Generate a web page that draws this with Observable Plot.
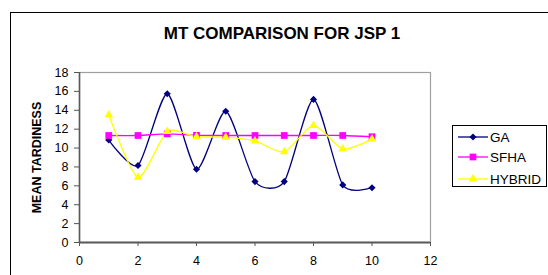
<!DOCTYPE html>
<html>
<head>
<meta charset="utf-8">
<script src="https://cdn.jsdelivr.net/npm/d3@7"></script>
<script src="https://cdn.jsdelivr.net/npm/@observablehq/plot@0.6"></script>
<style>
  html, body { margin: 0; padding: 0; background: #fff; }
  body { width: 548px; height: 275px; position: relative; overflow: hidden; font-family: "Liberation Sans", Arial, sans-serif; }
  #border { position: absolute; left: 10px; top: 12px; width: 620px; height: 320px; border: 1px solid #000; box-sizing: border-box; }
  #title { position: absolute; left: 0; width: 564px; top: 24px; text-align: center; font-weight: bold; font-size: 17px; color: #000; }
  #chart { position: absolute; left: 0; top: 0; }
  #legend { position: absolute; left: 452px; top: 125px; }
</style>
</head>
<body>
<div id="border"></div>
<div id="chart"></div>
<div id="title">MT COMPARISON FOR JSP 1</div>
<div id="legend"></div>
<script>
// ---- data ----
const jobs = [1, 2, 3, 4, 5, 6, 7, 8, 9, 10];
const gaValues = [10.85, 8.15, 15.75, 7.75, 13.9, 6.45, 6.45, 15.15, 6.1, 5.8];
const sfhaValues = [11.33, 11.33, 11.5, 11.35, 11.33, 11.33, 11.33, 11.33, 11.33, 11.2];
const hybridValues = [13.5, 6.9, 11.75, 11.2, 11.15, 10.75, 9.6, 12.4, 9.9, 10.95];
const seriesNames = ["GA", "SFHA", "HYBRID"];
const seriesColors = ["#000080", "#FF00FF", "#FFFF00"];
const seriesSymbols = ["diamond2", "square", "triangle"];
const seriesR = [3.2, 3.8, 3.2];
const xTicks = [0, 2, 4, 6, 8, 10, 12];
const yTicks = [0, 2, 4, 6, 8, 10, 12, 14, 16, 18];

const allValues = [gaValues, sfhaValues, hybridValues];
const rows = [];
seriesNames.forEach((s, i) => jobs.forEach((j, k) => rows.push({series: s, x: j, y: allValues[i][k]})));

const marks = [
  Plot.frame({stroke: "#a0a0a0", strokeWidth: 1.2}),
  Plot.axisY(yTicks, {tickSize: 5, tickPadding: 6, stroke: "#555", fontSize: 12.5, label: null, fill: "#000"}),
  Plot.axisX(xTicks, {tickSize: 4, tickPadding: 10, stroke: "#555", fontSize: 12.5, label: null, fill: "#000"}),
  Plot.ruleX([0], {stroke: "#5a5a5a", strokeWidth: 1.6}),
  Plot.ruleY([0], {stroke: "#5a5a5a", strokeWidth: 1.8}),
  Plot.text(["MEAN TARDINESS"], {frameAnchor: "left", dx: -43, rotate: -90, textAnchor: "middle", fontWeight: "bold", fontSize: 12.5, fill: "#000"})
];
seriesNames.forEach((s, i) => {
  const d = rows.filter(r => r.series === s);
  marks.push(Plot.line(d, {x: "x", y: "y", stroke: seriesColors[i], strokeWidth: 1.3, curve: "cardinal", tension: 0.3}));
});
seriesNames.forEach((s, i) => {
  const d = rows.filter(r => r.series === s);
  marks.push(Plot.dot(d, {x: "x", y: "y", symbol: () => seriesSymbols[i], r: seriesR[i], fill: seriesColors[i], stroke: "none"}));
});

const chart = Plot.plot({
  width: 548,
  height: 275,
  marginLeft: 79,
  marginRight: 118,
  marginTop: 72,
  marginBottom: 33,
  style: {fontFamily: "'Liberation Sans', Arial, sans-serif", background: "transparent", overflow: "visible"},
  x: {domain: [0, 12]},
  y: {domain: [0, 18]},
  symbol: {domain: seriesSymbols, range: seriesSymbols},
  marks
});
document.getElementById("chart").appendChild(chart);

// ---- legend ----
const lw = 94, lh = 61;
const svg = d3.create("svg").attr("width", lw + 2).attr("height", lh + 2)
  .style("font-family", "'Liberation Sans', Arial, sans-serif");
svg.append("rect").attr("x", 0.5).attr("y", 0.5).attr("width", lw).attr("height", lh)
  .attr("fill", "#fff").attr("stroke", "#000");
const rowY = [12, 32, 54];
const symMap = {diamond2: d3.symbolDiamond2, square: d3.symbolSquare, triangle: d3.symbolTriangle};
seriesNames.forEach((s, i) => {
  const g = svg.append("g").attr("transform", `translate(0,${rowY[i]})`);
  g.append("line").attr("x1", 6).attr("x2", 36).attr("stroke", seriesColors[i]).attr("stroke-width", 1.3);
  g.append("path").attr("transform", "translate(21,0)")
    .attr("d", d3.symbol(symMap[seriesSymbols[i]], Math.PI * seriesR[i] * seriesR[i])())
    .attr("fill", seriesColors[i]);
  g.append("text").attr("x", 38).attr("dy", "0.36em").attr("font-size", 13.5).text(s);
});
document.getElementById("legend").appendChild(svg.node());
</script>
</body>
</html>
